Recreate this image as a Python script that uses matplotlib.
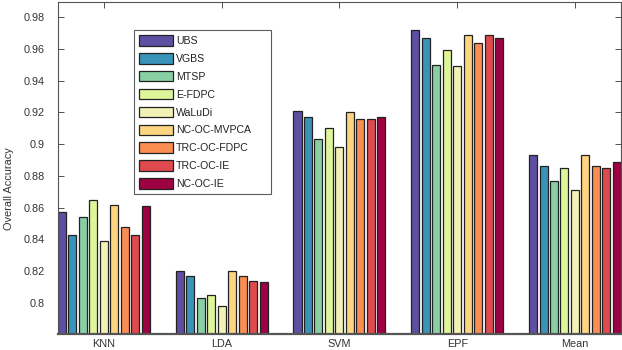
import numpy as np
import matplotlib
matplotlib.use('Agg')
import matplotlib.pyplot as plt

plt.rcParams['font.family'] = ['Liberation Sans', 'DejaVu Sans']

# classifiers on the x axis
classifiers = ['KNN', 'LDA', 'SVM', 'EPF', 'Mean']

# band selection methods (legend order)
methods = ['UBS', 'VGBS', 'MTSP', 'E-FDPC', 'WaLuDi',
           'NC-OC-MVPCA', 'TRC-OC-FDPC', 'TRC-OC-IE', 'NC-OC-IE']

# overall accuracy per method, one value per classifier (KNN, LDA, SVM, EPF, Mean)
ubs = [0.857, 0.820, 0.921, 0.972, 0.893]
vgbs = [0.843, 0.817, 0.917, 0.967, 0.886]
mtsp = [0.854, 0.803, 0.903, 0.950, 0.877]
efdpc = [0.865, 0.805, 0.910, 0.959, 0.885]
waludi = [0.839, 0.798, 0.898, 0.949, 0.871]
nc_oc_mvpca = [0.862, 0.820, 0.920, 0.969, 0.893]
trc_oc_fdpc = [0.848, 0.817, 0.916, 0.964, 0.886]
trc_oc_ie = [0.843, 0.814, 0.916, 0.969, 0.885]
nc_oc_ie = [0.861, 0.813, 0.917, 0.967, 0.889]

series = [ubs, vgbs, mtsp, efdpc, waludi, nc_oc_mvpca, trc_oc_fdpc, trc_oc_ie, nc_oc_ie]

yticks = [0.8, 0.82, 0.84, 0.86, 0.88, 0.9, 0.92, 0.94, 0.96, 0.98]
ytick_labels = ['0.8', '0.82', '0.84', '0.86', '0.88', '0.9', '0.92', '0.94', '0.96', '0.98']

# spectral-like palette
colors = ['#5e4fa2', '#3a93b9', '#88cfa4', '#def59a', '#f3f2b6',
          '#fdd47f', '#f98d52', '#de4a4d', '#9e0142']

fig = plt.figure(figsize=(6.22, 3.5), dpi=100)
ax = fig.add_axes([0.0932, 0.0457, 0.905, 0.9486])

x = np.arange(1, len(classifiers) + 1)
slot = 0.089
width = 0.068
for i, (name, vals) in enumerate(zip(methods, series)):
    offs = (i - (len(methods) - 1) / 2) * slot
    ax.bar(x + offs, vals, width, color=colors[i], edgecolor='#222222',
           linewidth=0.9, label=name, zorder=2)

ax.set_xlim(0.61, 5.39)
ax.set_ylim(0.7805, 0.9895)
ax.set_xticks(x)
ax.set_xticklabels(classifiers)
ax.set_yticks(yticks)
ax.set_yticklabels(ytick_labels)
ax.set_ylabel('Overall Accuracy', fontsize=7.9, color='#333333')
ax.yaxis.set_label_coords(-0.078, 0.437)

ax.tick_params(axis='both', direction='in', labelsize=7.8, colors='#333333',
               top=True, right=True, length=4, width=0.6)
ax.tick_params(axis='y', pad=9.5)
ax.tick_params(axis='x', pad=3.5)
for s in ['top', 'right', 'left']:
    ax.spines[s].set_color('#555555')
    ax.spines[s].set_linewidth(0.8)
ax.spines['bottom'].set_color('#555555')
ax.spines['bottom'].set_linewidth(1.6)

leg = ax.legend(loc='upper left', bbox_to_anchor=(0.135, 0.916, 0.243, 0.0),
                mode='expand', fontsize=7.6,
                frameon=True, fancybox=False, edgecolor='#333333',
                handlelength=3.2, handleheight=1.15, handletextpad=0.3,
                labelspacing=0.67, borderpad=0.5, borderaxespad=0)
leg.get_frame().set_linewidth(0.8)
for t in leg.get_texts():
    t.set_color('#222222')

fig.savefig('out.png', dpi=100)
